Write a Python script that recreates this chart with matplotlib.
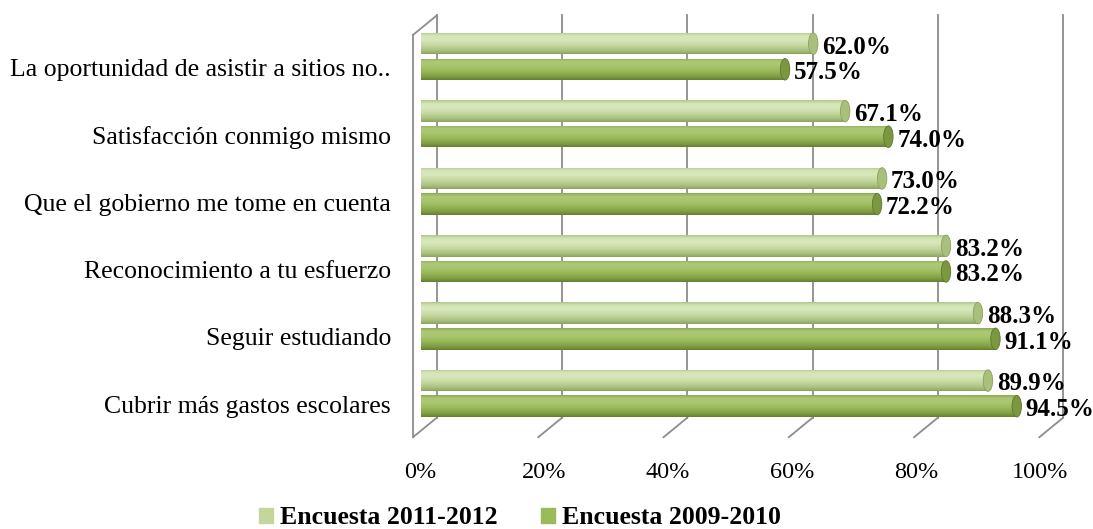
import numpy as np
import matplotlib
matplotlib.use('Agg')
import matplotlib.pyplot as plt
from matplotlib.patches import Ellipse, Rectangle
from matplotlib.colors import LinearSegmentedColormap

# data
categories = ['La oportunidad de asistir a sitios no..',
              'Satisfacción conmigo mismo',
              'Que el gobierno me tome en cuenta',
              'Reconocimiento a tu esfuerzo',
              'Seguir estudiando',
              'Cubrir más gastos escolares']
enc_2011 = [62.0, 67.1, 73.0, 83.2, 88.3, 89.9]
enc_2009 = [57.5, 74.0, 72.2, 83.2, 91.1, 94.5]
series_names = ['Encuesta 2011-2012', 'Encuesta 2009-2010']
xticks = [0, 20, 40, 60, 80, 100]
xtick_labels = ['0%', '20%', '40%', '60%', '80%', '100%']

SERIF = 'Liberation Serif'

fig = plt.figure(figsize=(10.93, 5.29), dpi=100)
ax = fig.add_axes([405 / 1093, 79 / 529, 660 / 1093, 440 / 529])
ax.set_xlim(-3.18, 102.2)
ax.set_ylim(5.84, -0.69)
ax.axis('off')

dx = 1.9      # depth offset in x (data units)
dy = 0.29     # depth offset in y (category units)
y_floor = 5.65
y_top = -0.61
grid_col = '#8c8c8c'

# back wall gridlines + slanted floor ticks
for v in xticks:
    ax.plot([v + dx, v + dx], [y_top, y_floor - dy], color=grid_col, lw=1.3, zorder=1)
    ax.plot([v - dx, v + dx], [y_floor, y_floor - dy], color=grid_col, lw=1.3, zorder=1)
# left wall
ax.plot([-dx, -dx], [y_top + dy, y_floor], color=grid_col, lw=1.3, zorder=1)
ax.plot([-dx, dx], [y_top + dy, y_top], color=grid_col, lw=1.3, zorder=1)

cm_light = LinearSegmentedColormap.from_list(
    'l', [(0, '#b3c78c'), (0.15, '#d4e5b5'), (0.35, '#d8e8bc'), (0.6, '#c5d89f'),
          (0.85, '#a9c07d'), (1, '#8da363')])
cm_dark = LinearSegmentedColormap.from_list(
    'd', [(0, '#8dab52'), (0.15, '#adc977'), (0.35, '#a9c66f'), (0.6, '#98b858'),
          (0.85, '#7f9c43'), (1, '#65802e')])

h = 0.32
off = 0.19
grad = np.linspace(0, 1, 64).reshape(-1, 1)


def cylinder(val, yc, cmap, capcol, edgecol):
    x0 = -0.6
    bar = ax.barh(yc, val - x0, left=x0, height=h, color='none', edgecolor='none', zorder=3)[0]
    im = ax.imshow(grad, cmap=cmap, aspect='auto', extent=[x0, val, yc + h / 2, yc - h / 2],
                   zorder=3, interpolation='bilinear')
    im.set_clip_path(bar)
    ax.add_patch(Ellipse((val, yc), 1.5, h, facecolor=capcol, edgecolor=edgecol, lw=0.6, zorder=4))


for i in range(len(categories)):
    yl = i - off
    yd = i + off
    cylinder(enc_2011[i], yl, cm_light, '#a9c07d', '#8aa060')
    cylinder(enc_2009[i], yd, cm_dark, '#7b9840', '#5d7630')
    ax.text(enc_2011[i] + 1.4, yl + 0.05, '%.1f%%' % enc_2011[i], fontfamily=SERIF,
            fontweight='bold', fontsize=18, va='center', ha='left', zorder=5)
    ax.text(enc_2009[i] + 1.4, yd + 0.05, '%.1f%%' % enc_2009[i], fontfamily=SERIF,
            fontweight='bold', fontsize=18, va='center', ha='left', zorder=5)
    ax.text(-5.4, i + 0.2, categories[i], fontfamily=SERIF, fontsize=18.5,
            va='center', ha='right', clip_on=False)

for v, lab in zip(xticks, xtick_labels):
    ax.text(v * 0.99 - 0.8, y_floor + 0.52, lab, fontfamily=SERIF, fontsize=17.5,
            va='center', ha='center', clip_on=False)

handles = [Rectangle((0, 0), 1, 1, color='#c3d69b'), Rectangle((0, 0), 1, 1, color='#9bbb59')]
fig.legend(handles, series_names, loc='center', bbox_to_anchor=(520 / 1093, 1 - 518 / 529),
           ncol=2, frameon=False, prop={'family': SERIF, 'weight': 'bold', 'size': 18.5},
           handlelength=0.55, handleheight=0.55, handletextpad=0.25, columnspacing=1.7,
           borderpad=0.0)

fig.savefig('out.png', dpi=100)
